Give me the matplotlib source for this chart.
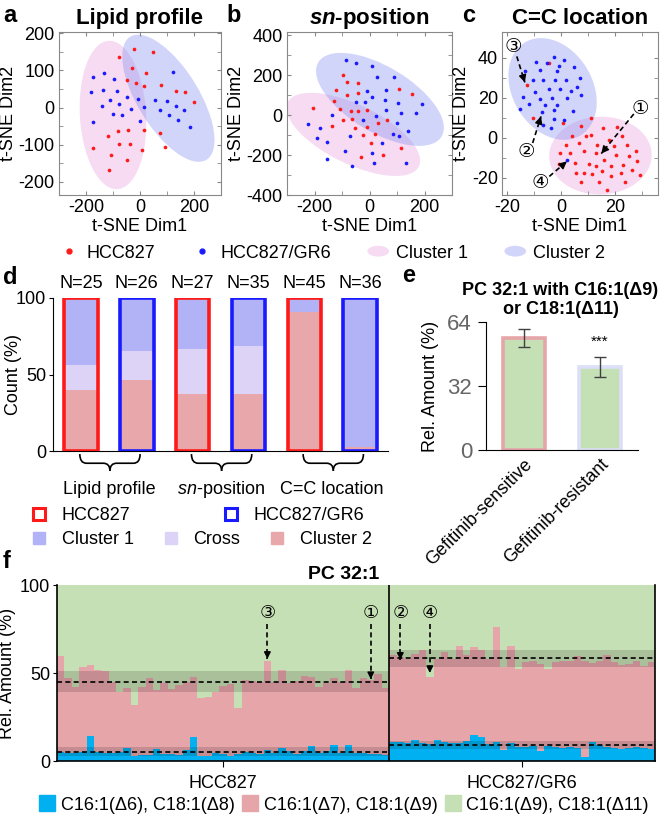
import numpy as np
import matplotlib
matplotlib.use("Agg")
import matplotlib.pyplot as plt
import matplotlib.patches as mpatches
from matplotlib.lines import Line2D
from matplotlib.path import Path
from matplotlib.legend_handler import HandlerPatch
import matplotlib.transforms as mtransforms

plt.rcParams["font.family"] = ["Liberation Sans", "DejaVu Sans"]
plt.rcParams["axes.unicode_minus"] = False
plt.rcParams["mathtext.fontset"] = "custom"
plt.rcParams["mathtext.rm"] = "Liberation Sans"
plt.rcParams["mathtext.it"] = "Liberation Sans:italic"
plt.rcParams["mathtext.bf"] = "Liberation Sans:italic:bold"

# ---------------- data ----------------
# a: t-SNE of lipid profile
a_red_x = [-22, 49, -77, -31, 21, -49, -16, 16, 77, 132, 167, 201, 16, 75, -83, -43, -120, 93, -77, -37, 6, -173, -109, -47, -115]
a_red_y = [157, 148, 136, 107, 94, 75, 66, 57, 60, 44, 41, 15, -61, -68, -64, -61, -77, -106, -97, -99, -113, -109, -127, -140, -168]
a_blue_x = [123, -173, -135, -96, -183, -136, -84, -110, -49, -9, 56, 99, 133, 164, -140, -78, -35, 16, 74, 107, 140, 185, -100, -65, -1, -173]
a_blue_y = [96, 83, 93, 76, 43, 48, 45, 20, 28, 24, 21, 18, 5, -7, 5, 10, -3, 1, -6, -21, -34, -52, -16, -21, -35, -38]
# b: t-SNE of sn-position
b_red_x = [-96, -82, -41, -121, -83, -42, -128, -204, -107, -68, -43, -8, -95, -135, -54, -8, 32, 65, -22, 20, 108, 153, 115, 4, -30, 48, -65]
b_red_y = [202, 163, 162, 123, 102, 110, 70, 35, 28, 18, 20, 23, -27, -57, -63, -60, -42, -25, -98, -93, 128, 105, -163, -138, -210, -200, -22]
b_blue_x = [-87, -48, 10, 27, 89, 59, -49, -18, 8, 56, 105, 192, 168, 113, 61, 22, -25, -138, -222, -190, -156, -71, 99, 141, 107, 44, 10, -90, -153, 16, -62, 133, 87, -180, -10]
b_blue_y = [275, 258, 247, 190, 188, 125, 67, 63, 92, 73, 58, 53, 8, 8, 23, -7, -23, 2, -47, -113, -133, -103, -38, -80, -103, -138, -188, -182, -218, -242, -253, -242, -97, -63, 120]
# c: t-SNE of C=C location
c_red_x = [-4.4, -12.8, -10.6, 0.7, 11, 7.4, 15.6, 20.7, 11.2, 6.5, 13.5, 17.7, 22.5, 24.4, 3.3, 8.6, 12.8, 20.2, 25.4, 5.1, 10.4, 15.8, 18.6, 23.1, 28.1, -0.7, 11.4, 15.3, 29.3, 7.5, 14.2, 23.7, 16.9, -0.5, 9.1, 4.2, 19.6, 27.7, 1.7, 22.1, 12.8, 8.5, 18.4, 26.4, 5.4]
c_red_y = [37.3, 26.7, 9.8, 7.5, 9.8, 5.8, 5, 5.5, 1.3, -2.5, -3.7, -0.8, 0.8, -3.7, -7.5, -6.7, -7.5, -8.3, -9.2, -12.5, -12.8, -10.8, -14.2, -13.7, -11.7, -13, -18, -16.7, -18.3, -22, -22, -22, -25.8, -7.5, 1.2, 0.8, -4.2, -6.7, -3.3, -17.5, -14.2, -17.5, -19.2, -15.8, -17.5]
c_blue_x = [-9.4, -2.6, 1.1, 4.6, -7.9, -13.5, -1.7, 7.0, -6.9, -2.2, 1.7, -9.6, -4.4, -0.4, 5.8, -14.1, -7.9, -3.5, 2.1, -12.1, -6.0, -1.4, -15.2, -7.2, -2.6, 4.3, -6.7, -2.6, -3.6, 2.3, -10.6, 3.6, -0.7, -5.1, 1.1, 7.3]
c_blue_y = [37.8, 40.5, 39, 35.3, 34.2, 33.3, 33.7, 30, 29, 29, 29, 22.8, 24.5, 24.5, 25.3, 20.5, 19.5, 19.8, 19.8, 17, 16.5, 16.5, 14.7, 13.2, 14.2, 13.3, 6.5, 9.5, 4.8, -11.2, 29.2, 23.3, 35.8, 37.5, 9.2, 21.7]
# cluster ellipses: (center x, center y, width, height, angle)
ell_a = [(-100, -20, 245, 400, 6), (105, 25, 440, 200, -45)]
ell_b = [(-59, -97, 580, 270, -38), (38, 78, 590, 290, -45)]
ell_c = [(14.6, -8.8, 38, 39, -20), (-3.2, 24.5, 31, 52, 15)]

# d: counts per cluster
d_n = [25, 26, 27, 35, 45, 36]
d_cluster2 = [10, 12, 10, 13, 41, 1]
d_cross = [4, 5, 8, 11, 0, 0]
d_cluster1 = [11, 9, 9, 11, 4, 35]
d_groups = ["Lipid profile", r"$\mathit{sn}$-position", "C=C location"]

# e: relative amount of PC 32:1 with C16:1(D9)/C18:1(D11)
e_labels = ["Gefitinib-sensitive", "Gefitinib-resistant"]
e_mean = [56.0, 41.5]
e_err = [4.4, 5.1]

# f: stacked composition per sample
hcc_total = [59.8, 47.3, 41.9, 53.2, 54.4, 51.5, 51.0, 45.1, 39.4, 41.3, 31.8, 42.2, 47.0, 40.3, 44.2,
             40.7, 43.2, 45.1, 47.5, 35.6, 36.6, 39.4, 42.5, 43.7, 30.0, 46.1, 45.5, 45.1, 56.8, 45.1,
             51.7, 44.6, 45.7, 48.4, 47.8, 42.2, 44.6, 47.0, 45.1, 51.7, 41.3, 47.0, 46.1, 49.2, 41.7]
hcc_blue = [5.3, 4.7, 4.4, 5.3, 14.2, 5.3, 4.7, 4.4, 5.3, 7.6, 2.8, 3.4, 3.4, 6.6, 4.0,
            4.0, 3.4, 6.3, 13.4, 2.8, 2.8, 4.7, 4.0, 2.8, 4.0, 5.3, 4.4, 4.0, 6.3, 4.7,
            7.6, 5.9, 4.0, 5.9, 8.5, 4.7, 5.9, 8.9, 4.7, 9.1, 4.7, 4.7, 4.0, 4.0, 3.4]
gr6_total = [60, 59, 58, 61, 63, 48, 58, 62, 58, 65.5, 60, 65, 63, 58, 76, 53.5, 65.5, 52,
             56.4, 57, 55, 52.5, 56, 57, 57, 59.5, 57, 55.5, 57, 60, 56, 54.7, 55, 57, 54, 56]
gr6_blue = [11, 11, 10.4, 11.9, 10, 9.7, 11.9, 11, 10, 10.4, 11.6, 14.8, 13.8, 9.7, 11, 6.3, 10.4, 7.8,
            8.1, 8.5, 5.9, 8.5, 7.8, 7.2, 8.1, 7.2, 2.5, 11, 9.1, 8.1, 7.2, 6.6, 7.2, 7.8, 7.2, 6.6]
f_groups = ["HCC827", "HCC827/GR6"]
f_layers = ["C16:1(Δ6), C18:1(Δ8)", "C16:1(Δ7), C18:1(Δ9)", "C16:1(Δ9), C18:1(Δ11)"]
# marked samples: (label, sample index, arrow tip value)
f_marks = [("③", 28, 58), ("①", 42, 46.5), ("②", 46, 57.5), ("④", 50, 50)]
c_marks = [("①", (29.3, 15), (27, 12), (14.9, -7.8)),
           ("②", (-12.8, -6.7), (-10.6, -2.5), (-7.5, 10.8)),
           ("③", (-17.8, 45.8), (-16.5, 40.8), (-13.5, 27.8)),
           ("④", (-7.9, -22.5), (-4.4, -19.2), (2.1, -11.7))]

# ---------------- style ----------------
RED = "#ff1a1a"
BLUE = "#1a1aff"
PINK_ELL = "#e9a6e0"
BLUE_ELL = "#8c96f0"
C1 = "#b1b3f6"
CROSS = "#ddd3f6"
C2 = "#e7a7ab"
F_BLUE = "#00b0f0"
F_PINK = "#e6a5a9"
F_GREEN = "#c6e0b5"

W, H = 666, 816
fig = plt.figure(figsize=(W / 100, H / 100), dpi=100)


def add_ax(l, t, r, b):
    return fig.add_axes([l / W, 1 - b / H, (r - l) / W, (b - t) / H])


def dashed_arrow(ax, start, tip, lw=1.2, ms=11):
    ax.plot([start[0], tip[0]], [start[1], tip[1]], ls=(0, (3, 2)), color="k", lw=lw, zorder=6)
    back = (tip[0] - 0.12 * (tip[0] - start[0]), tip[1] - 0.12 * (tip[1] - start[1]))
    ax.annotate("", xy=tip, xytext=back, zorder=6,
                arrowprops=dict(arrowstyle="-|>", color="k", lw=1, mutation_scale=ms, shrinkA=0, shrinkB=0))


class HandlerEllipse(HandlerPatch):
    def create_artists(self, legend, orig_handle, xdescent, ydescent, width, height, fontsize, trans):
        center = 0.5 * width - 0.5 * xdescent, 0.5 * height - 0.5 * ydescent
        p = mpatches.Ellipse(xy=center, width=width + xdescent, height=height * 0.85)
        self.update_prop(p, orig_handle, legend)
        p.set_transform(trans)
        return [p]


def tsne_panel(ax, rx, ry, bx, by, ells, xlim, ylim, xmaj, xmin, ymaj, ymin):
    for (cx, cy, w, h, ang), col in zip(ells, [PINK_ELL, BLUE_ELL]):
        ax.add_patch(mpatches.Ellipse((cx, cy), w, h, angle=ang, facecolor=col, alpha=0.4, lw=0, zorder=1))
    ax.scatter(rx, ry, s=7, color=RED, lw=0, zorder=3)
    ax.scatter(bx, by, s=7, color=BLUE, lw=0, zorder=3)
    ax.set_xlim(xlim)
    ax.set_ylim(ylim)
    ax.set_xticks(xmaj)
    ax.set_xticks(xmin, minor=True)
    ax.set_yticks(ymaj)
    ax.set_yticks(ymin, minor=True)
    for s in ax.spines.values():
        s.set_color("#888888")
        s.set_linewidth(0.8)
    ax.tick_params(which="both", direction="in", top=True, right=True, length=3,
                   color="#888888", labelsize=13, pad=3)
    ax.set_xlabel("t-SNE Dim1", fontsize=13, labelpad=1)
    ax.set_ylabel("t-SNE Dim2", fontsize=13, labelpad=1)


# ---------------- a, b, c ----------------
ax_a = add_ax(59, 32, 221, 195)
tsne_panel(ax_a, a_red_x, a_red_y, a_blue_x, a_blue_y, ell_a, (-300, 300), (-235, 203),
           [-200, 0, 200], [-100, 100], [-200, -100, 0, 100, 200], [-150, -50, 50, 150])
ax_a.set_title("Lipid profile", fontsize=16, fontweight="bold", pad=6)

ax_b = add_ax(287, 32, 452, 195)
tsne_panel(ax_b, b_red_x, b_red_y, b_blue_x, b_blue_y, ell_b, (-300, 300), (-400, 415),
           [-200, 0, 200], [-100, 100], [-400, -200, 0, 200, 400], [-300, -100, 100, 300])
ax_b.set_title(r"$\mathbf{sn}$-position", fontsize=16, fontweight="bold", pad=6)

ax_c = add_ax(502, 32, 658, 195)
tsne_panel(ax_c, c_red_x, c_red_y, c_blue_x, c_blue_y, ell_c, (-22, 36), (-28.5, 53),
           [-20, 0, 20], [-10, 10, 30], [-20, 0, 20, 40], [-10, 10, 30])
ax_c.set_title("C=C location", fontsize=16, fontweight="bold", pad=6)
for lab, pos, start, tip in c_marks:
    ax_c.text(pos[0], pos[1], lab, ha="center", va="center", fontsize=14,
              family=["DejaVu Sans"], zorder=7)
    dashed_arrow(ax_c, start, tip)

top_handles = [Line2D([], [], marker="o", ls="none", ms=3.5, color=RED),
               Line2D([], [], marker="o", ls="none", ms=3.5, color=BLUE),
               mpatches.Ellipse((0, 0), 1, 1, facecolor=PINK_ELL, alpha=0.4, lw=0),
               mpatches.Ellipse((0, 0), 1, 1, facecolor=BLUE_ELL, alpha=0.4, lw=0)]
fig.legend(top_handles, ["HCC827", "HCC827/GR6", "Cluster 1", "Cluster 2"], ncol=4,
           loc="center left", bbox_to_anchor=(58 / W, 1 - 253 / H), frameon=False,
           fontsize=13, handlelength=1.2, handletextpad=0.4, columnspacing=2.0,
           borderpad=0, borderaxespad=0,
           handler_map={mpatches.Ellipse: HandlerEllipse()})

# ---------------- d ----------------
ax_d = add_ax(53, 298, 388, 451)
xd = np.arange(1, 7)
n = np.array(d_n, dtype=float)
p2 = np.array(d_cluster2) / n * 100
px = np.array(d_cross) / n * 100
p1 = np.array(d_cluster1) / n * 100
bw = 0.6
ax_d.bar(xd, p2, bw, color=C2, lw=0)
ax_d.bar(xd, px, bw, bottom=p2, color=CROSS, lw=0)
ax_d.bar(xd, p1, bw, bottom=p2 + px, color=C1, lw=0)
ax_d.bar(xd, np.full(6, 100.0), bw, fill=False,
         edgecolor=[RED if i % 2 == 0 else BLUE for i in range(6)], lw=2.6, zorder=3)
for xi, ni in zip(xd, d_n):
    ax_d.text(xi, 104, f"N={ni}", ha="center", va="bottom", fontsize=13)
ax_d.set_xlim(0.5, 6.5)
ax_d.set_ylim(0, 100)
ax_d.set_xticks([])
ax_d.set_yticks([0, 50, 100])
ax_d.tick_params(axis="y", labelsize=13, length=3, pad=2)
ax_d.spines["top"].set_visible(False)
ax_d.spines["right"].set_visible(False)
ax_d.set_ylabel("Count (%)", fontsize=13)
ax_d.yaxis.set_label_coords(-0.092, 0.5)

trans_d = mtransforms.blended_transform_factory(ax_d.transData, ax_d.transAxes)
for gi, glab in enumerate(d_groups):
    x0 = 1 + 2 * gi - 0.02
    x1 = 2 + 2 * gi + 0.06
    xm = (x0 + x1) / 2
    r = 0.12
    y0, y1, y2 = -0.02, -0.08, -0.13
    path1 = Path([(x0, y0), (x0, y1), (x0 + r, y1), (xm - r, y1), (xm, y1), (xm, y2)],
                 [Path.MOVETO, Path.CURVE3, Path.CURVE3, Path.LINETO, Path.CURVE3, Path.CURVE3])
    path2 = Path([(xm, y2), (xm, y1), (xm + r, y1), (x1 - r, y1), (x1, y1), (x1, y0)],
                 [Path.MOVETO, Path.CURVE3, Path.CURVE3, Path.LINETO, Path.CURVE3, Path.CURVE3])
    for pth in (path1, path2):
        ax_d.add_patch(mpatches.PathPatch(pth, transform=trans_d, fill=False, lw=1.2,
                                          edgecolor="k", clip_on=False))
    ax_d.text(1.5 + 2 * gi, -0.25, glab, transform=trans_d, ha="center", va="center", fontsize=13)

d_leg1 = [Line2D([], [], marker="s", ls="none", ms=9, mfc="white", mec=RED, mew=2.2),
          Line2D([], [], marker="s", ls="none", ms=9, mfc="white", mec=BLUE, mew=2.2)]
fig.legend(d_leg1, ["HCC827", "HCC827/GR6"], ncol=2, loc="center left",
           bbox_to_anchor=(31 / W, 1 - 516 / H), frameon=False, fontsize=13,
           handlelength=0.9, handletextpad=0.8, columnspacing=5.1, borderpad=0, borderaxespad=0)
d_leg2 = [Line2D([], [], marker="s", ls="none", ms=9, color=c) for c in (C1, CROSS, C2)]
fig.legend(d_leg2, ["Cluster 1", "Cross", "Cluster 2"], ncol=3, loc="center left",
           bbox_to_anchor=(31 / W, 1 - 540 / H), frameon=False, fontsize=13,
           handlelength=0.9, handletextpad=0.8, columnspacing=1.6, borderpad=0, borderaxespad=0)

# ---------------- e ----------------
ax_e = add_ax(486, 322, 638, 450)
xe = np.arange(1, 3)
ax_e.bar(xe, e_mean, 0.55, color=F_GREEN, edgecolor=[F_PINK, "#dcdff7"], lw=2.6)
ax_e.errorbar(xe, e_mean, yerr=e_err, fmt="none", ecolor="#404040", elinewidth=1, capsize=4, capthick=1)
ax_e.text(2, e_mean[1] + e_err[1] + 4, "***", ha="center", va="bottom", fontsize=11)
ax_e.set_xlim(0.5, 2.5)
ax_e.set_ylim(0, 64)
ax_e.set_yticks([0, 32, 64])
ax_e.set_xticks(xe)
ax_e.set_xticklabels(e_labels, rotation=45, ha="right", rotation_mode="anchor", fontsize=13)
ax_e.tick_params(axis="y", labelsize=16, labelcolor="#666666", length=6, pad=4)
ax_e.tick_params(axis="x", length=0, pad=4)
ax_e.spines["top"].set_visible(False)
ax_e.spines["right"].set_visible(False)
ax_e.set_ylabel("Rel. Amount (%)", fontsize=13, labelpad=6)
ax_e.set_title("PC 32:1 with C16:1(Δ9)\nor C18:1(Δ11)", fontsize=13, fontweight="bold",
               pad=6, x=0.49, linespacing=1.15)

# ---------------- f ----------------
ax_f = add_ax(57, 585, 655, 761)
tot = np.array(hcc_total + gr6_total)
blu = np.array(hcc_blue + gr6_blue)
xf = np.arange(len(tot))
ax_f.bar(xf, blu, 1.0, color=F_BLUE, lw=0)
ax_f.bar(xf, tot - blu, 1.0, bottom=blu, color=F_PINK, lw=0)
ax_f.bar(xf, 100 - tot, 1.0, bottom=tot, color=F_GREEN, lw=0)
n_h = len(hcc_total)
for lo, hi in [(0, n_h), (n_h, len(tot))]:
    for vals in (tot[lo:hi], blu[lo:hi]):
        m, s = vals.mean(), vals.std(ddof=1)
        ax_f.fill_between([lo - 0.5, hi - 0.5], m - s, m + s, color="k", alpha=0.14, lw=0, zorder=4)
        ax_f.hlines(m, lo - 0.5, hi - 0.5, colors="k", linestyles=(0, (3, 2)), lw=1.2, zorder=5)
ax_f.axvline(n_h - 0.5, color="k", lw=1.2, zorder=5)
for lab, idx, tip in f_marks:
    ax_f.text(idx, 84, lab, ha="center", va="center", fontsize=13, family=["DejaVu Sans"], zorder=7)
    dashed_arrow(ax_f, (idx, 78), (idx, tip), ms=10)
ax_f.set_xlim(-0.5, len(tot) - 0.5)
ax_f.set_ylim(0, 100)
ax_f.set_yticks([0, 50, 100])
ax_f.set_xticks([(n_h - 1) / 2, n_h + (len(gr6_total) - 1) / 2])
ax_f.set_xticklabels(f_groups, fontsize=13)
ax_f.tick_params(axis="x", length=4, pad=6)
ax_f.tick_params(axis="y", labelsize=13, length=3, pad=2)
ax_f.spines["top"].set_visible(False)
for s in ("left", "right", "bottom"):
    ax_f.spines[s].set_linewidth(1.2)
ax_f.set_ylabel("Rel. Amount (%)", fontsize=13, labelpad=3)
ax_f.set_title("PC 32:1", fontsize=14, fontweight="bold", pad=4, x=0.48)

f_handles = [Line2D([], [], marker="s", ls="none", ms=11, color=c) for c in (F_BLUE, F_PINK, F_GREEN)]
fig.legend(f_handles, f_layers, ncol=3, loc="center left", bbox_to_anchor=(40 / W, 1 - 805 / H),
           frameon=False, fontsize=13, handlelength=0.8, handletextpad=0.35, columnspacing=0.45,
           borderpad=0, borderaxespad=0)

# panel letters
for lab, x, y in [("a", 3, 15), ("b", 226, 15), ("c", 462, 15), ("d", 3, 278), ("e", 402, 276), ("f", 3, 561)]:
    fig.text(x / W, 1 - y / H, lab, fontsize=17, fontweight="bold", va="center", ha="left")

fig.savefig("out.png", dpi=100)
